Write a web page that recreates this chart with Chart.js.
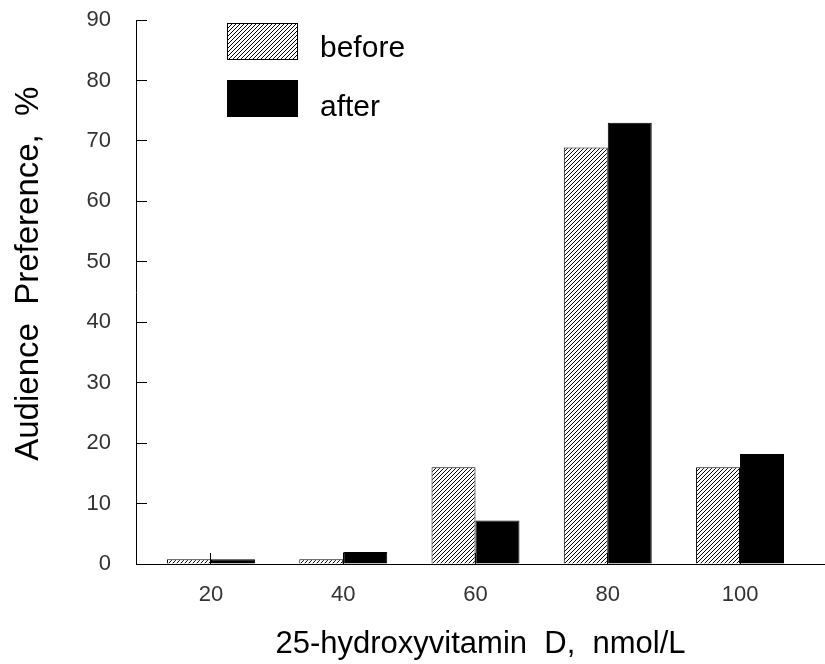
<!DOCTYPE html>
<html>
<head>
<meta charset="utf-8">
<title>25-hydroxyvitamin D</title>
<script src="https://cdn.jsdelivr.net/npm/chart.js@4.4.1/dist/chart.umd.min.js"></script>
<style>
  html, body { margin: 0; padding: 0; background: #fff; }
  #wrap { width: 825px; height: 664px; }
</style>
</head>
<body>
<div id="wrap"><canvas id="chart" width="825" height="664"></canvas></div>
<script>
// --- données ---
const doses = [20, 40, 60, 80, 100];          // nmol/L
const beforeValues = [0.8, 0.8, 16, 68.9, 16];
const afterValues = [0.8, 2, 7.2, 73, 18.2];
const seriesNames = ['before', 'after'];
const yTickValues = [0, 10, 20, 30, 40, 50, 60, 70, 80, 90];

const FONT = '"Liberation Sans", Arial, sans-serif';

const canvas = document.getElementById('chart');
const ctx = canvas.getContext('2d');

// hachures ////
function makeHatch() {
    const tile = document.createElement('canvas');
    tile.width = 4;
    tile.height = 4;
    const g = tile.getContext('2d');
    g.fillStyle = '#fff';
    g.fillRect(0, 0, 4, 4);
    g.strokeStyle = '#000';
    g.lineWidth = 1;
    g.beginPath();
    g.moveTo(0, 4); g.lineTo(4, 0);
    g.moveTo(-1, 1); g.lineTo(1, -1);
    g.moveTo(3, 5); g.lineTo(5, 3);
    g.stroke();
    return ctx.createPattern(tile, 'repeat');
}
const hatch = makeHatch();

// légende dessinée à la main (boîtes + texte)
const boxLegend = {
    id: 'boxLegend',
    afterDraw(chart) {
        const c = chart.ctx;
        const rows = [{ top: 23, base: 57 }, { top: 80, base: 116 }];
        chart.data.datasets.forEach((ds, i) => {
            const r = rows[i];
            c.save();
            c.fillStyle = ds.backgroundColor;
            c.fillRect(227, r.top, 71, 37);
            c.strokeStyle = '#000';
            c.lineWidth = 1;
            c.strokeRect(227.5, r.top + 0.5, 70, 36);
            c.fillStyle = '#000';
            c.font = '30px ' + FONT;
            c.textBaseline = 'alphabetic';
            c.fillText(ds.label, 320, r.base);
            c.restore();
        });
    }
};

const chart = new Chart(canvas, {
    type: 'bar',
    data: {
        datasets: [
            {
                label: seriesNames[0],
                data: doses.map((d, i) => ({ x: d, y: beforeValues[i] })),
                backgroundColor: hatch,
                borderColor: '#000',
                borderWidth: 1
            },
            {
                label: seriesNames[1],
                data: doses.map((d, i) => ({ x: d, y: afterValues[i] })),
                backgroundColor: '#000',
                borderColor: '#000',
                borderWidth: 1
            }
        ]
    },
    options: {
        responsive: false,
        animation: false,
        devicePixelRatio: 1,
        categoryPercentage: 0.665,
        barPercentage: 1,
        layout: { padding: { top: 20, right: 0, bottom: 0, left: 0 } },
        plugins: {
            legend: { display: false },
            tooltip: { enabled: false }
        },
        scales: {
            x: {
                type: 'linear',
                min: 8.66,
                max: 112.85,
                offset: false,
                afterBuildTicks: s => { s.ticks = doses.map(v => ({ value: v })); },
                afterFit: s => { s.height = 100; s.paddingLeft = 0; s.paddingRight = 0; },
                grid: { offset: false, drawOnChartArea: false, tickLength: -11, color: '#000' },
                border: { display: true, color: '#000', width: 1 },
                ticks: { padding: 29, color: '#333', font: { family: FONT, size: 22 }, maxRotation: 0 },
                title: {
                    display: true,
                    text: '25-hydroxyvitamin  D,  nmol/L',
                    color: '#000',
                    font: { family: FONT, size: 31 },
                    padding: { top: 0, bottom: 1 }
                }
            },
            y: {
                min: 0,
                max: 90,
                afterBuildTicks: s => { s.ticks = yTickValues.map(v => ({ value: v })); },
                afterFit: s => { s.width = 136; s.paddingTop = 0; s.paddingBottom = 0; },
                grid: { drawOnChartArea: false, tickLength: -11, color: '#000' },
                border: { display: true, color: '#000', width: 1 },
                ticks: { padding: 36, color: '#333', font: { family: FONT, size: 22 } },
                title: {
                    display: true,
                    text: '    Audience  Preference,  %',
                    color: '#000',
                    font: { family: FONT, size: 33 },
                    padding: { top: 9, bottom: 0 }
                }
            }
        }
    },
    plugins: [boxLegend]
});

console.log('chart area', chart.chartArea);
</script>
</body>
</html>
